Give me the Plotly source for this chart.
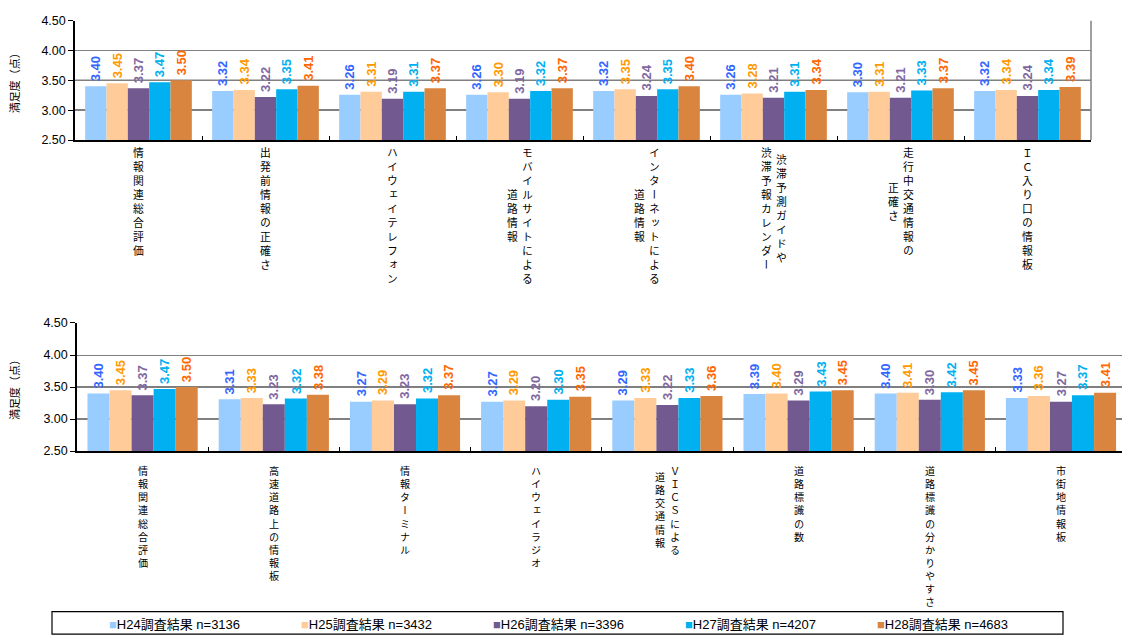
import plotly.graph_objects as go

W, H = 1122, 643

# ---- data -------------------------------------------------------------
series_names = ["H24調査結果", "H25調査結果", "H26調査結果", "H27調査結果", "H28調査結果"]
sample_sizes = [3136, 3432, 3396, 4207, 4683]

# each category label is a list of vertical columns, first column drawn on the right
top_categories = [
    ["情報関連総合評価"],
    ["出発前情報の正確さ"],
    ["ハイウェイテレフォン"],
    ["モバイルサイトによる", "道路情報"],
    ["インターネットによる", "道路情報"],
    ["渋滞予測ガイドや", "渋滞予報カレンダー"],
    ["走行中交通情報の", "正確さ"],
    ["ＩＣ入り口の情報板"],
]
top_h24 = [3.40, 3.32, 3.26, 3.26, 3.32, 3.26, 3.30, 3.32]
top_h25 = [3.45, 3.34, 3.31, 3.30, 3.35, 3.28, 3.31, 3.34]
top_h26 = [3.37, 3.22, 3.19, 3.19, 3.24, 3.21, 3.21, 3.24]
top_h27 = [3.47, 3.35, 3.31, 3.32, 3.35, 3.31, 3.33, 3.34]
top_h28 = [3.50, 3.41, 3.37, 3.37, 3.40, 3.34, 3.37, 3.39]

bottom_categories = [
    ["情報関連総合評価"],
    ["高速道路上の情報板"],
    ["情報ターミナル"],
    ["ハイウェイラジオ"],
    ["ＶＩＣＳによる", "道路交通情報"],
    ["道路標識の数"],
    ["道路標識の分かりやすさ"],
    ["市街地情報板"],
]
bottom_h24 = [3.40, 3.31, 3.27, 3.27, 3.29, 3.39, 3.40, 3.33]
bottom_h25 = [3.45, 3.33, 3.29, 3.29, 3.33, 3.40, 3.41, 3.36]
bottom_h26 = [3.37, 3.23, 3.23, 3.20, 3.22, 3.29, 3.30, 3.27]
bottom_h27 = [3.47, 3.32, 3.32, 3.30, 3.33, 3.43, 3.42, 3.37]
bottom_h28 = [3.50, 3.38, 3.37, 3.35, 3.36, 3.45, 3.45, 3.41]

y_ticks = [2.5, 3.0, 3.5, 4.0, 4.5]
y_title = "満足度（点）"

bar_colors = ["#99CCFF", "#FFCC99", "#725A91", "#00B0F0", "#D9853F"]
label_colors = ["#3366FF", "#FF9900", "#7F679F", "#00B0F0", "#FF6600"]

# ---- helpers ----------------------------------------------------------
def px_x(p):
    return p / W


def px_y(p):
    return 1 - p / H


CJK = "Noto Sans CJK JP"
LATIN = "Liberation Sans"


def vertical_text(s):
    # one character per line; the 'vert' feature gives the upright glyph forms
    return "<br>".join(
        "<span style=\"font-feature-settings:'vert' 1\">%s</span>" % ch for ch in s
    )


# ---- layout geometry (pixels) -----------------------------------------
BARGAP = 0.16
top_left, top_right = 75, 1091
top_cat_px = (top_right - top_left) / 8
bottom_left = 77
bottom_cat_px = 131.2
bottom_right_px = bottom_left + 8 * bottom_cat_px   # runs past the page edge

# ---- figure -----------------------------------------------------------
fig = go.Figure()

panels = [
    dict(xa="x", ya="y", cats=top_categories, cat_px=top_cat_px,
         label_top=138, label_size=10.8,
         vals=[top_h24, top_h25, top_h26, top_h27, top_h28]),
    dict(xa="x2", ya="y2", cats=bottom_categories, cat_px=bottom_cat_px,
         label_top=464, label_size=10.1,
         vals=[bottom_h24, bottom_h25, bottom_h26, bottom_h27, bottom_h28]),
]

annotations = []

for panel in panels:
    keys = ["".join(c) for c in panel["cats"]]
    bar_px = panel["cat_px"] * (1 - BARGAP) / len(series_names)
    for i, (name, vals, bc, lc) in enumerate(
            zip(series_names, panel["vals"], bar_colors, label_colors)):
        fig.add_trace(go.Bar(
            x=keys, y=vals, name=name,
            xaxis=panel["xa"], yaxis=panel["ya"],
            marker=dict(color=bc, line=dict(width=0)),
            showlegend=False,
            hoverinfo="skip",
        ))
        # value labels, rotated, sitting on top of each bar
        offset = (i - (len(series_names) - 1) / 2) * bar_px
        for k, v in zip(keys, vals):
            annotations.append(dict(
                x=k, y=v, xref=panel["xa"], yref=panel["ya"],
                text="<b>%.2f</b>" % v, textangle=-90, showarrow=False,
                xanchor="center", yanchor="bottom",
                xshift=round(offset), yshift=3,
                font=dict(family=LATIN, size=13, color=lc),
            ))

axis_common_y = dict(
    range=[2.5, 4.5], tickvals=y_ticks, tickformat=".2f",
    showgrid=True, gridcolor="#808080", gridwidth=1,
    showline=True, linecolor="#000000", linewidth=1.5,
    ticks="outside", ticklen=5, tickcolor="#000000",
    tickfont=dict(family=LATIN, size=12.5, color="#000000"),
    zeroline=False, fixedrange=True,
)
axis_common_x = dict(
    type="category", showticklabels=False,
    ticks="inside", tickson="boundaries", ticklen=4, tickcolor="#000000",
    showline=True, linecolor="#000000", linewidth=2,
    showgrid=False, zeroline=False, fixedrange=True,
)

fig.update_layout(
    width=W, height=H,
    margin=dict(l=0, r=0, t=0, b=0),
    paper_bgcolor="#FFFFFF", plot_bgcolor="#FFFFFF",
    barmode="group", bargap=BARGAP, bargroupgap=0,
    xaxis=dict(axis_common_x, domain=[px_x(top_left), px_x(top_right)], anchor="y",
               range=[-0.5, 7.5]),
    yaxis=dict(axis_common_y, domain=[px_y(136), px_y(14)], anchor="x"),
    xaxis2=dict(axis_common_x, domain=[px_x(bottom_left), 1.0], anchor="y2",
                range=[-0.5, 7.5 - (bottom_right_px - W) / bottom_cat_px]),
    yaxis2=dict(axis_common_y, domain=[px_y(454), px_y(323)], anchor="x2"),
    showlegend=False,
)

shapes = []
for ya in ["y", "y2"]:
    xa = "x" if ya == "y" else "x2"
    for v in (3.0, 3.5):
        shapes.append(dict(type="line", xref=xa + " domain", yref=ya,
                           x0=0, x1=1, y0=v, y1=v,
                           line=dict(color="#000000", width=1.2), layer="below"))
# right-hand frame of the top panel
shapes.append(dict(type="line", xref="x domain", yref="y domain",
                   x0=1, x1=1, y0=0, y1=1,
                   line=dict(color="#808080", width=1.5)))
# legend frame
shapes.append(dict(type="rect", xref="paper", yref="paper",
                   x0=px_x(52), x1=px_x(1063), y0=px_y(641), y1=px_y(618),
                   line=dict(color="#000000", width=1.2), fillcolor="rgba(0,0,0,0)"))
fig.update_layout(shapes=shapes)

# category labels written vertically below each group
col_gap = 15
for panel in panels:
    size = panel["label_size"]
    pitch = 1.3 * size
    for cat in panel["cats"]:
        key = "".join(cat)
        longest = max(len(c) for c in cat)
        n = len(cat)
        for i, col in enumerate(cat):
            annotations.append(dict(
                x=key, xref=panel["xa"], y=px_y(panel["label_top"]), yref="paper",
                text=vertical_text(col), showarrow=False,
                xanchor="center", yanchor="top", align="center",
                xshift=((n - 1) / 2 - i) * col_gap,
                yshift=-(longest - len(col)) * pitch / 2,
                font=dict(family=CJK, size=size, color="#000000"),
            ))

# axis titles
for center_px in ((14 + 136) / 2, (323 + 454) / 2):
    annotations.append(dict(
        x=px_x(14), y=px_y(center_px), xref="paper", yref="paper",
        text=y_title, textangle=-90, showarrow=False,
        xanchor="center", yanchor="middle",
        font=dict(family=CJK, size=11, color="#000000"),
    ))

# legend entries
legend_x = [107, 299, 491, 683, 875]
for lx, name, n, c in zip(legend_x, series_names, sample_sizes, bar_colors):
    annotations.append(dict(
        x=px_x(lx), y=px_y(631), xref="paper", yref="paper",
        text='<span style="color:%s">■</span>%s n=%d' % (c, name, n),
        showarrow=False, xanchor="left", yanchor="middle",
        font=dict(family=LATIN + ", " + CJK, size=13, color="#000000"),
    ))

fig.update_layout(annotations=annotations)

fig.write_html("out.html")
